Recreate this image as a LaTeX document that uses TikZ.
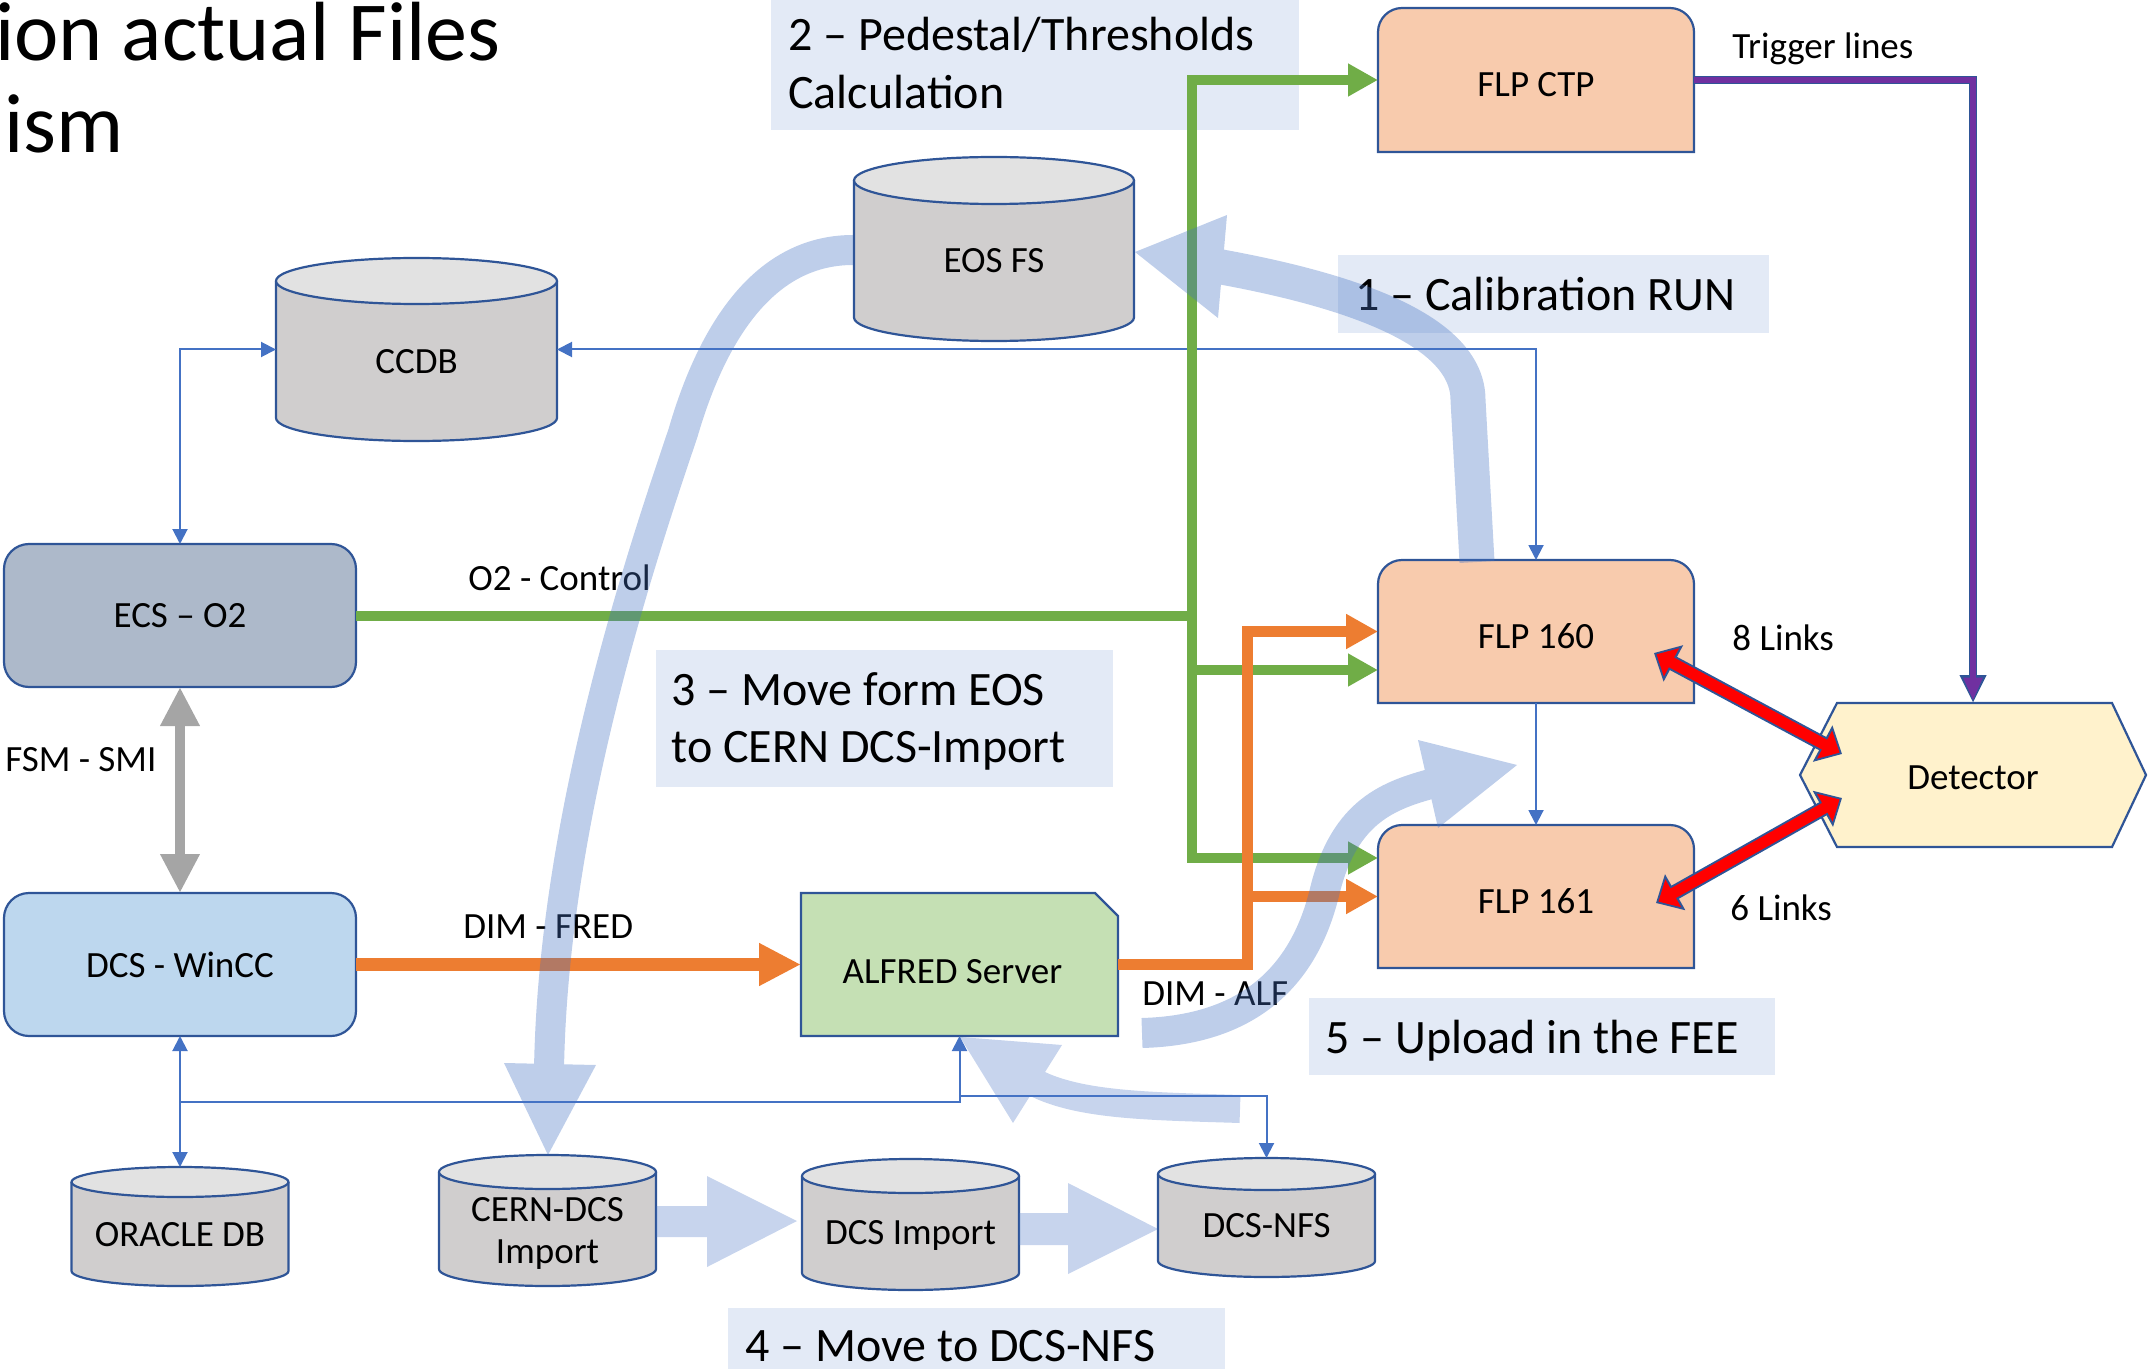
\documentclass[tikz,border=0pt]{standalone}
\usepackage{fontspec}
\setmainfont{Carlito}
\usetikzlibrary{calc,arrows.meta}
\definecolor{bord}{HTML}{2F5597}
\definecolor{conn}{HTML}{4472C4}
\definecolor{gline}{HTML}{70AD47}
\definecolor{oline}{HTML}{ED7D31}
\definecolor{gryline}{HTML}{A5A5A5}
\definecolor{purp}{HTML}{7030A0}
\definecolor{ecsfill}{HTML}{ADB9CA}
\definecolor{dcsfill}{HTML}{BDD7EE}
\definecolor{alffill}{HTML}{C5E0B4}
\definecolor{flpfill}{HTML}{F8CBAD}
\definecolor{detfill}{HTML}{FFF2CC}
\definecolor{cylside}{HTML}{D0CECE}
\definecolor{cyltop}{HTML}{E2E2E2}
\definecolor{stepfill}{HTML}{E3EAF6}
\definecolor{flow}{HTML}{4472C4}
\newcommand{\cylshape}[3]{%
  \fill[cylside] ($(#1.north west)+(0,-#3)$) rectangle ($(#1.south east)+(0,#3)$);
  \fill[cylside] ($(#1.south)+(0,#3)$) ellipse [x radius=#2, y radius=#3];
  \draw[shp] ($(#1.north west)+(0,-#3)$) -- ($(#1.south west)+(0,#3)$) arc [start angle=180, end angle=360, x radius=#2, y radius=#3] -- ($(#1.north east)+(0,-#3)$);
  \filldraw[shp, fill=cyltop] ($(#1.north)+(0,-#3)$) ellipse [x radius=#2, y radius=#3];
}
\newcommand{\topround}[3]{%
  \filldraw[shp, fill=#3] (#1.south west) -- ($(#1.north west)+(0,-#2)$) .. controls ($(#1.north west)+(0,-0.45*#2)$) and ($(#1.north west)+(0.45*#2,0)$) .. ($(#1.north west)+(#2,0)$) -- ($(#1.north east)+(-#2,0)$) .. controls ($(#1.north east)+(-0.45*#2,0)$) and ($(#1.north east)+(0,-0.45*#2)$) .. ($(#1.north east)+(0,-#2)$) -- (#1.south east) -- cycle;
}
\begin{document}
\begin{tikzpicture}[x=0.5pt,y=0.5pt,
  sz/.style 2 args={minimum width=#1*0.5pt, minimum height=#2*0.5pt},
  box/.style={inner sep=0pt, outer sep=0pt, draw=none},
  nf/.style={font=\fontsize{18.5pt}{22pt}\selectfont},
  sf/.style={font=\fontsize{24pt}{29pt}\selectfont},
  ctext/.style={nf, inner sep=0pt},
  lbl/.style={nf, inner sep=0pt, anchor=base west},
  steptxt/.style={sf, inner sep=0pt, anchor=base west},
  stepbox/.style={box, fill=stepfill},
  shp/.style={draw=bord, line width=1.1pt},
  rbox/.style={box, draw=bord, line width=1.1pt, rounded corners=12.5pt, nf},
  thinc/.style={draw=conn, line width=1pt, >={Triangle[length=7.5pt,width=7.5pt]}},
  gl/.style={draw=gline, line width=5pt, >={Triangle[length=15pt,width=15.5pt]}},
  ol/.style={draw=oline, line width=5.5pt, >={Triangle[length=16pt,width=16.5pt]}},
  olbig/.style={draw=oline, line width=6.5pt, >={Triangle[length=21pt,width=20pt]}},
  gr/.style={draw=gryline, line width=5pt, >={Triangle[length=19.5pt,width=18.5pt]}},
  purpo/.style={draw=bord, line width=4.3pt, >={Triangle[length=14pt,width=12.5pt]}},
  purpi/.style={draw=purp, line width=2.6pt, >={Triangle[length=11.5pt,width=9pt]}, shorten >=1.2pt},
  redo/.style={draw=bord, line width=7.5pt, >={Triangle[length=11pt,width=20pt]}},
  redi/.style={draw=red, line width=5.5pt, >={Triangle[length=8.5pt,width=15.5pt]}, shorten >=1.4pt, shorten <=1.4pt},
  flowline/.style={draw=flow, line cap=butt}
]
\useasboundingbox (0,0) rectangle (2151,-1369);

% step boxes
\node[stepbox, sz={528}{130}] (s2) at (1035,-65) {};
\node[stepbox, sz={431}{78}] (s1) at (1553.5,-294) {};
\node[stepbox, sz={457}{137}] (s3) at (884.5,-718.5) {};
\node[stepbox, sz={466}{77}] (s5) at (1542,-1036.5) {};
\node[stepbox, sz={497}{90}] (s4) at (976.5,-1353) {};

% title
\node[font=\fontsize{42pt}{50pt}\selectfont, inner sep=0pt, anchor=base west] (t1) at (-5,-61) {ion actual Files};
\node[font=\fontsize{42pt}{50pt}\selectfont, inner sep=0pt, anchor=base west] (t2) at (4,-153) {ism};

% step texts
\node[steptxt] (s2a) at (788,-51) {2 – Pedestal/Thresholds};
\node[steptxt] (s2b) at (788,-109) {Calculation};
\node[steptxt] (s1a) at (1355,-311) {1 – Calibration RUN};
\node[steptxt] (s3a) at (671,-705) {3 – Move form EOS};
\node[steptxt] (s3b) at (671,-762) {to CERN DCS-Import};
\node[steptxt] (s5a) at (1325,-1053) {5 – Upload in the FEE};
\node[steptxt] (s4a) at (745,-1361) {4 – Move to DCS-NFS};

% main boxes
\node[rbox, fill=ecsfill, sz={352}{143}] (ecs) at (180,-615.5) {ECS – O2};
\node[rbox, fill=dcsfill, sz={352}{143}] (dcs) at (180,-964.5) {DCS - WinCC};

\node[box, sz={317}{143}] (alfred) at (959.5,-964.5) {};
\filldraw[shp, fill=alffill] (alfred.south west) -- (alfred.north west) -- ($(alfred.north east)+(-23,0)$) -- ($(alfred.north east)+(0,-23)$) -- (alfred.south east) -- cycle;
\node[ctext] (alfredt) at ($(alfred)+(-7,-7)$) {ALFRED Server};

\node[box, sz={316}{144}] (flpctp) at (1536,-80) {};
\topround{flpctp}{24}{flpfill}
\node[ctext] (flpctpt) at ($(flpctp)+(0,-5)$) {FLP CTP};
\node[box, sz={316}{143}] (f160) at (1536,-631.5) {};
\topround{f160}{24}{flpfill}
\node[ctext] (f160t) at ($(f160)+(0,-5)$) {FLP 160};
\node[box, sz={316}{143}] (f161) at (1536,-896.5) {};
\topround{f161}{24}{flpfill}
\node[ctext] (f161t) at ($(f161)+(0,-5)$) {FLP 161};

\node[box, sz={346}{144}] (detector) at (1973,-775) {};
\filldraw[shp, fill=detfill] ($(detector.north west)+(37,0)$) -- ($(detector.north east)+(-34,0)$) -- (detector.east) -- ($(detector.south east)+(-34,0)$) -- ($(detector.south west)+(37,0)$) -- (detector.west) -- cycle;
\node[ctext] (detectort) at ($(detector)+(0,-3)$) {Detector};

% cylinders
\node[box, sz={281}{183}] (ccdb) at (416.5,-349.5) {};
\cylshape{ccdb}{140.5}{23}
\node[ctext, anchor=base] (ccdbt) at ($(ccdb)+(0,-24)$) {CCDB};
\node[box, sz={280}{184}] (eos) at (994,-249) {};
\cylshape{eos}{140}{23.5}
\node[ctext, anchor=base] (eost) at ($(eos)+(0,-24)$) {EOS FS};
\node[box, sz={217}{119}] (oracle) at (180,-1226.5) {};
\cylshape{oracle}{108.5}{15}
\node[ctext, anchor=base] (oraclet) at ($(oracle)+(0,-20)$) {ORACLE DB};
\node[box, sz={217}{131}] (cerndcs) at (547.5,-1220.5) {};
\cylshape{cerndcs}{108.5}{17}
\node[ctext, anchor=base] (cerndcst) at ($(cerndcs)+(0,-0.5)$) {CERN-DCS};
\node[ctext, anchor=base] (cerndcst2) at ($(cerndcs)+(0,-43)$) {Import};
\node[box, sz={217}{131}] (dcsimp) at (910.5,-1224.5) {};
\cylshape{dcsimp}{108.5}{17}
\node[ctext, anchor=base] (dcsimpt) at ($(dcsimp)+(0,-20)$) {DCS Import};
\node[box, sz={217}{119}] (dcsnfs) at (1266.5,-1217.5) {};
\cylshape{dcsnfs}{108.5}{16}
\node[ctext, anchor=base] (dcsnfst) at ($(dcsnfs)+(0,-20)$) {DCS-NFS};

% thin connectors
\draw[thinc,<->] (ecs.north) |- (ccdb.west);
\draw[thinc,<->] (ccdb.east) -| (f160.north);
\draw[thinc,->] (f160.south) -- (f161.north);
\draw[thinc,<->] (dcs.south) -- (oracle.north);
\coordinate (jb) at ($(dcs.south)+(0,-66)$);
\draw[thinc,->] (jb) -| (alfred.south);
\coordinate (jn) at ($(alfred.south)+(0,-60)$);
\draw[thinc,->] (jn) -| (dcsnfs.north);

% green O2 control
\coordinate (gx) at (1192,0);
\coordinate (g160) at ($(f160.west)+(0,-38.5)$);
\coordinate (g161) at ($(f161.west)+(0,38.5)$);
\draw[gl,->] (ecs.east) -- (gx |- ecs.east) |- (flpctp.west);
\draw[gl,->] (gx |- ecs.east) |- (g160);
\draw[gl,->] (gx |- ecs.east) |- (g161);

% orange DIM
\coordinate (ox) at (1247,0);
\draw[ol,->] (alfred.east) -- (ox |- alfred.east) |- (f160.west);
\draw[ol,->] (ox |- alfred.east) |- (f161.west);
\draw[olbig,->] (dcs.east) -- (alfred.west);

% gray FSM
\draw[gr,<->] (ecs.south) -- (dcs.north);

% purple trigger
\draw[purpo,->] (flpctp.east) -| (detector.north);
\draw[purpi,->] (flpctp.east) -| (detector.north);

% red links
\coordinate (r1a) at ($(f160.east)+(-40,-21.5)$);
\coordinate (r1b) at ($(detector.west)+(42,21)$);
\coordinate (r2a) at ($(f161.east)+(-38,-6.5)$);
\coordinate (r2b) at ($(detector.west)+(42,-23)$);
\draw[redo,<->] (r1a) -- (r1b);
\draw[redi,<->] (r1a) -- (r1b);
\draw[redo,<->] (r2a) -- (r2b);
\draw[redi,<->] (r2a) -- (r2b);

% labels
\node[lbl] (lo2) at (468,-590) {O2 - Control};
\node[lbl] (ltrig) at (1732,-59) {Trigger lines};
\node[lbl] (l8) at (1732,-650) {8 Links};
\node[lbl] (l6) at (1730,-920) {6 Links};
\node[lbl] (lfsm) at (5,-771) {FSM - SMI};
\node[lbl] (lfred) at (463,-938) {DIM - FRED};
\node[lbl] (lalf) at (1142,-1005) {DIM - ALF};

% flow arrows
\begin{scope}[transparency group, opacity=0.35]
  \draw[flowline, line width=17.5pt] (1477,-562) -- (1468,-400) .. controls (1468,-330) and (1350,-290) .. (1216,-266);
  \fill[flow] (1227,-215) -- (1135,-252) -- (1218,-318) -- cycle;
\end{scope}
\begin{scope}[transparency group, opacity=0.35]
  \draw[flowline, line width=15pt] (853,-250) .. controls (760,-250) and (710,-340) .. (683,-433) .. controls (640,-560) and (553,-820) .. (549,-1070);
  \fill[flow] (504,-1063) -- (596,-1065) -- (548,-1155) -- cycle;
\end{scope}
\begin{scope}[transparency group, opacity=0.35]
  \draw[flowline, line width=15pt] (1142,-1033) .. controls (1250,-1030) and (1305,-975) .. (1325,-890) .. controls (1345,-810) and (1390,-795) .. (1434,-783);
  \fill[flow] (1418,-740) -- (1517,-765) -- (1438,-828) -- cycle;
\end{scope}
\begin{scope}[transparency group, opacity=0.3]
  \draw[flowline, line width=14pt] (1240,-1109) .. controls (1150,-1106) and (1075,-1106) .. (1030,-1080);
  \fill[flow] (960,-1037) -- (1062,-1045) -- (1013,-1123) -- cycle;
\end{scope}
\fill[flow, fill opacity=0.3] (656,-1206) -- (707,-1206) -- (707,-1176) -- (797,-1221) -- (707,-1267) -- (707,-1237) -- (656,-1237) -- cycle;
\fill[flow, fill opacity=0.3] (1019,-1213) -- (1068,-1213) -- (1068,-1183) -- (1158,-1229) -- (1068,-1274) -- (1068,-1245) -- (1019,-1245) -- cycle;
\end{tikzpicture}
\end{document}
